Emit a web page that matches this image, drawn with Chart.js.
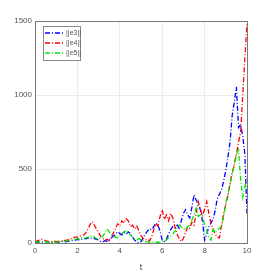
<!DOCTYPE html>
<html>
<head>
<meta charset="utf-8">
<script src="https://cdn.jsdelivr.net/npm/chart.js@4"></script>
<style>
  html, body { margin: 0; padding: 0; background: #fff; }
  #wrap { width: 273px; height: 273px; }
</style>
</head>
<body>
<div id="wrap"><canvas id="c" width="273" height="273"></canvas></div>
<script>
// time axis: 0 .. 10 in steps of 0.1
const T = Array.from({ length: 101 }, (_, i) => i / 10);
const xTicks = [0, 2, 4, 6, 8, 10];
const yTicks = [0, 500, 1000, 1500];
const labels = ['||e3||', '||e4||', '||e5||'];

const e3 = [
  5, 5, 8, 6, 5, 4, 5, 3, 4, 5,
  6, 5, 8, 10, 8, 10, 12, 15, 18, 20,
  25, 20, 25, 30, 28, 35, 30, 35, 30, 25,
  20, 10, 8, 15, 12, 20, 35, 45, 60, 75,
  65, 55, 70, 60, 75, 65, 40, 20, 5, 2,
  10, 35, 60, 80, 95, 90, 110, 135, 120, 80,
  20, 10, 25, 60, 90, 110, 100, 120, 100, 150,
  200, 225, 190, 170, 240, 325, 290, 260, 225, 150,
  20, 60, 110, 135, 160, 220, 300, 330, 360, 420,
  490, 580, 680, 860, 950, 1055, 780, 800, 720, 600, 200
];
const e4 = [
  5, 15, 20, 25, 22, 15, 12, 10, 8, 10,
  10, 12, 10, 15, 18, 20, 25, 30, 35, 40,
  40, 45, 50, 55, 70, 95, 125, 145, 120, 95,
  70, 45, 30, 20, 25, 15, 35, 70, 100, 130,
  115, 150, 135, 165, 150, 110, 120, 95, 115, 80,
  50, 30, 20, 25, 15, 40, 90, 130, 115, 180,
  225, 160, 190, 150, 200, 170, 110, 60, 30, 10,
  30, 70, 110, 100, 140, 120, 200, 280, 230, 180,
  230, 280, 200, 135, 90, 60, 40, 35, 120, 200,
  260, 320, 400, 480, 520, 600, 680, 750, 1000, 1250, 1490
];
const e5 = [
  5, 8, 10, 8, 6, 5, 5, 4, 5, 6,
  5, 8, 10, 12, 10, 15, 18, 20, 22, 25,
  30, 28, 35, 30, 35, 40, 45, 50, 40, 30,
  25, 35, 45, 70, 95, 75, 55, 45, 40, 35,
  50, 65, 75, 85, 70, 55, 40, 25, 20, 30,
  20, 15, 10, 8, 5, 5, 6, 5, 5, 6,
  8, 10, 20, 35, 45, 60, 80, 100, 120, 110,
  100, 90, 110, 120, 155, 190, 235, 180, 190, 170,
  130, 90, 40, 20, 90, 70, 90, 100, 110, 180,
  270, 330, 400, 460, 540, 600, 630, 425, 310, 380, 440
];

const colors = ['#0000ff', '#ff0000', '#00e600'];
const series = [e3, e4, e5];
const dash = [5, 2, 1, 2];

const datasets = series.map((s, k) => ({
  label: labels[k],
  data: s.map((v, i) => ({ x: T[i], y: v })),
  borderColor: colors[k],
  borderWidth: 1.3,
  borderDash: dash,
  pointRadius: 0,
  tension: 0,
  fill: false,
  order: 2 - k
}));

const font = { family: 'Liberation Sans, Arial, sans-serif', size: 8 };

// boxed axes + legend drawn inside the plot, matlab style
const boxPlugin = {
  id: 'box',
  afterDraw(chart) {
    const { ctx, chartArea: a } = chart;
    ctx.save();
    ctx.strokeStyle = '#7a7a7a';
    ctx.lineWidth = 1;
    ctx.strokeRect(a.left + 0.5, a.top + 0.5, a.right - a.left, a.bottom - a.top);

    // legend box
    const lx = a.left + 8, ly = a.top + 5, lw = 37, lh = 34;
    ctx.fillStyle = '#fff';
    ctx.fillRect(lx, ly, lw, lh);
    ctx.strokeStyle = '#8a8a8a';
    ctx.strokeRect(lx + 0.5, ly + 0.5, lw, lh);
    ctx.font = '7px Liberation Sans, Arial, sans-serif';
    ctx.textBaseline = 'middle';
    chart.data.datasets.forEach((d, k) => {
      const yy = ly + 7 + k * 10;
      ctx.strokeStyle = colors[k];
      ctx.lineWidth = 1.3;
      ctx.setLineDash(dash);
      ctx.beginPath();
      ctx.moveTo(lx + 2, yy);
      ctx.lineTo(lx + 22, yy);
      ctx.stroke();
      ctx.setLineDash([]);
      ctx.fillStyle = '#555';
      ctx.fillText(d.label, lx + 23, yy);
    });
    ctx.restore();
  }
};

new Chart(document.getElementById('c'), {
  type: 'line',
  data: { datasets },
  options: {
    responsive: false,
    animation: false,
    layout: { padding: { left: 0, top: 21, right: 26, bottom: 0 } },
    plugins: { legend: { display: false }, tooltip: { enabled: false } },
    scales: {
      x: {
        type: 'linear',
        min: 0, max: 10,
        afterBuildTicks: ax => { ax.ticks = xTicks.map(v => ({ value: v })); },
        afterFit: ax => { ax.height = 30; },
        ticks: { font, color: '#555', padding: 3, maxRotation: 0, callback: v => String(v) },
        grid: { color: '#ebebeb', drawTicks: false },
        border: { display: false },
        title: { display: true, text: 't', font: { family: font.family, size: 9 }, color: '#444', padding: { top: 2, bottom: 0 } }
      },
      y: {
        min: 0, max: 1500,
        afterBuildTicks: ax => { ax.ticks = yTicks.map(v => ({ value: v })); },
        afterFit: ax => { ax.width = 35; },
        ticks: { font, color: '#555', padding: 3, callback: v => String(v) },
        grid: { color: '#ebebeb', drawTicks: false },
        border: { display: false }
      }
    }
  },
  plugins: [boxPlugin]
});
</script>
</body>
</html>
